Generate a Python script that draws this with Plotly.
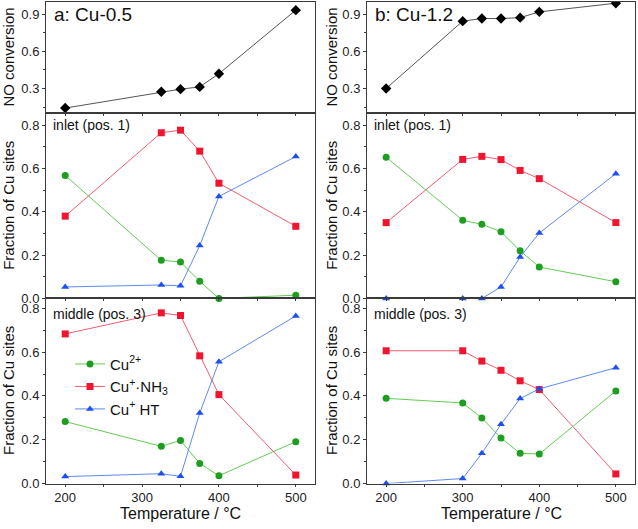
import plotly.graph_objects as go
from plotly.subplots import make_subplots

# ---------------- data ----------------
temp_a = [200, 325, 350, 375, 400, 500]
temp_b = [200, 300, 325, 350, 375, 400, 500]

no_conv_a = [0.142, 0.274, 0.295, 0.313, 0.420, 0.934]
no_conv_b = [0.300, 0.845, 0.866, 0.866, 0.873, 0.920, 0.990]

# inlet (pos. 1)
inlet_a_cu2 = [0.568, 0.176, 0.168, 0.079, 0.000, 0.015]
inlet_a_nh3 = [0.380, 0.765, 0.777, 0.680, 0.532, 0.333]
inlet_a_ht = [0.053, 0.062, 0.058, 0.244, 0.471, 0.655]

inlet_b_cu2 = [0.652, 0.361, 0.342, 0.308, 0.220, 0.145, 0.077]
inlet_b_nh3 = [0.350, 0.642, 0.656, 0.641, 0.591, 0.553, 0.350]
inlet_b_ht = [0.000, 0.000, 0.000, 0.053, 0.191, 0.302, 0.576]

# middle (pos. 3)
mid_a_cu2 = [0.283, 0.170, 0.197, 0.092, 0.036, 0.191]
mid_a_nh3 = [0.683, 0.779, 0.767, 0.583, 0.406, 0.039]
mid_a_ht = [0.032, 0.045, 0.033, 0.322, 0.556, 0.765]

mid_b_cu2 = [0.389, 0.368, 0.299, 0.208, 0.138, 0.135, 0.423]
mid_b_nh3 = [0.606, 0.606, 0.559, 0.517, 0.469, 0.429, 0.044]
mid_b_ht = [0.000, 0.023, 0.138, 0.271, 0.388, 0.432, 0.529]

series_names = ["Cu<sup>2+</sup>", "Cu<sup>+</sup>·NH<sub>3</sub>", "Cu<sup>+</sup> HT"]
panel_titles = ["a: Cu-0.5", "b: Cu-1.2"]
row_labels = ["inlet (pos. 1)", "middle (pos. 3)"]

# ---------------- styling ----------------
W, H = 638, 529
FONT = "Liberation Sans, Arial, sans-serif"
marker_cols = ["#1e9e1e", "#f0152f", "#1e4ff0"]
line_cols = ["#62cc52", "#f55a70", "#5e8af2"]
symbols = ["circle", "square", "triangle-up"]
AX = "#3a3a3a"

def px_x(p):
    return p / W

def px_y(p):
    return 1 - p / H

col_dom = [[px_x(46), px_x(315)], [px_x(367), px_x(635)]]
row_dom = [[px_y(115), px_y(2)], [px_y(303), px_y(115)], [px_y(491), px_y(303)]]

fig = make_subplots(rows=3, cols=2)

temps = [temp_a, temp_b]
conv = [no_conv_a, no_conv_b]
fractions = [
    [[inlet_a_cu2, inlet_a_nh3, inlet_a_ht], [inlet_b_cu2, inlet_b_nh3, inlet_b_ht]],
    [[mid_a_cu2, mid_a_nh3, mid_a_ht], [mid_b_cu2, mid_b_nh3, mid_b_ht]],
]

for c in range(2):
    fig.add_trace(go.Scatter(
        x=temps[c], y=conv[c], mode="lines+markers",
        line=dict(color="#555555", width=1),
        marker=dict(symbol="diamond", size=8, color="black"),
        showlegend=False, cliponaxis=True), row=1, col=c + 1)
    for r in range(2):
        for s in range(3):
            fig.add_trace(go.Scatter(
                x=temps[c], y=fractions[r][c][s], mode="lines+markers",
                name=series_names[s],
                line=dict(color=line_cols[s], width=1),
                marker=dict(symbol=symbols[s], size=7, color=marker_cols[s]),
                showlegend=(r == 1 and c == 0), cliponaxis=False), row=r + 2, col=c + 1)

yranges = [[0.1, 1.0], [0, 0.855], [0, 0.845]]
for r in range(3):
    for c in range(2):
        fig.update_xaxes(
            row=r + 1, col=c + 1, domain=col_dom[c], range=[175, 525],
            tickvals=[200, 300, 400, 500], showticklabels=(r == 2),
            ticks="outside", ticklen=2, tickcolor=AX, tickwidth=1,
            minor=dict(dtick=50, tick0=0, ticks="outside", ticklen=2, tickcolor=AX),
            showline=True, linecolor=AX, linewidth=1, mirror=True,
            showgrid=False, zeroline=False,
            tickfont=dict(family=FONT, size=13, color="#222"))
        if r == 0:
            yt = dict(tickvals=[0.3, 0.6, 0.9], ticktext=["0.3", "0.6", "0.9"],
                      minor=dict(dtick=0.15, tick0=0.0, ticks="outside", ticklen=2, tickcolor=AX))
        else:
            yt = dict(tickvals=[0, 0.2, 0.4, 0.6, 0.8], ticktext=["0.0", "0.2", "0.4", "0.6", "0.8"],
                      minor=dict(dtick=0.1, tick0=0, ticks="outside", ticklen=2, tickcolor=AX))
        fig.update_yaxes(
            row=r + 1, col=c + 1, domain=row_dom[r], range=yranges[r],
            ticks="outside", ticklen=3, tickcolor=AX, tickwidth=1,
            showline=True, linecolor=AX, linewidth=1, mirror=True,
            showgrid=False, zeroline=False,
            tickfont=dict(family=FONT, size=13, color="#222"), **yt)

ann = []
for c in range(2):
    x0 = col_dom[c][0]
    ann.append(dict(text=panel_titles[c], x=x0 + px_x(6), y=px_y(15), xref="paper", yref="paper",
                    xanchor="left", yanchor="middle", showarrow=False,
                    font=dict(family=FONT, size=19, color="#111")))
    ann.append(dict(text=row_labels[0], x=x0 + px_x(5), y=px_y(127), xref="paper", yref="paper",
                    xanchor="left", yanchor="middle", showarrow=False,
                    font=dict(family=FONT, size=14, color="#111")))
    ann.append(dict(text=row_labels[1], x=x0 + px_x(5), y=px_y(319), xref="paper", yref="paper",
                    xanchor="left", yanchor="middle", showarrow=False,
                    font=dict(family=FONT, size=14, color="#111")))
    xc = (col_dom[c][0] + col_dom[c][1]) / 2
    ann.append(dict(text="Temperature / °C", x=xc, y=px_y(521), xref="paper", yref="paper",
                    xanchor="center", yanchor="middle", showarrow=False,
                    font=dict(family=FONT, size=16, color="#111")))
    yx = px_x(9) if c == 0 else px_x(332)
    ann.append(dict(text="NO conversion", x=yx, y=(row_dom[0][0] + row_dom[0][1]) / 2,
                    xref="paper", yref="paper", textangle=-90, xanchor="center", yanchor="middle",
                    showarrow=False, font=dict(family=FONT, size=15, color="#111")))
    for r in (1, 2):
        ann.append(dict(text="Fraction of Cu sites", x=yx, y=(row_dom[r][0] + row_dom[r][1]) / 2,
                        xref="paper", yref="paper", textangle=-90, xanchor="center", yanchor="middle",
                        showarrow=False, font=dict(family=FONT, size=15, color="#111")))

fig.update_layout(
    width=W, height=H, margin=dict(l=0, r=0, t=0, b=0),
    paper_bgcolor="white", plot_bgcolor="white",
    annotations=ann,
    legend=dict(x=px_x(70), y=px_y(353), xanchor="left", yanchor="top",
                bgcolor="rgba(0,0,0,0)", itemwidth=30, tracegroupgap=0,
                font=dict(family=FONT, size=15, color="#111")),
)

fig.write_html("out.html", config={"displayModeBar": False},
               post_script="document.body.style.margin='0px';")
